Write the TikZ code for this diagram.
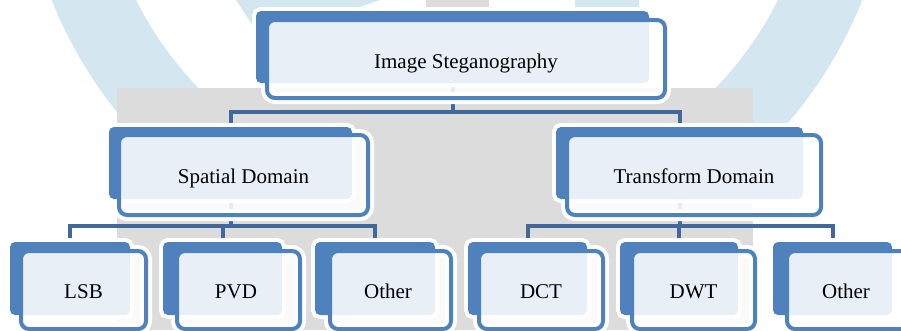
\documentclass[tikz,border=0pt]{standalone}
\usepackage{fontspec}
\setmainfont{Liberation Serif}
\pgfdeclarelayer{backdrop}
\pgfdeclarelayer{conn}
\pgfsetlayers{backdrop,conn,main}
\definecolor{boxblue}{RGB}{79,129,189}
\definecolor{connblue}{RGB}{64,104,155}
\definecolor{ringblue}{RGB}{212,231,240}
\definecolor{greybg}{RGB}{220,220,220}
\tikzset{
  backbox/.style={fill=boxblue, rounded corners=5pt, inner sep=0pt, outer sep=0pt},
  frontbox/.style={draw=boxblue, line width=4pt, fill=white, fill opacity=0.88, rounded corners=8pt, inner sep=0pt, outer sep=0pt},
  glowb/.style={draw=white, line width=8pt, rounded corners=5pt, inner sep=0pt, outer sep=0pt},
  glowf/.style={draw=white, line width=12pt, rounded corners=8pt, inner sep=0pt, outer sep=0pt},
  conn/.style={draw=connblue, line width=4pt},
  lbl/.style={anchor=base, inner sep=0pt, font=\fontsize{21}{25}\selectfont, text=black}
}
\newcommand\tbox[9]{%
  \node[glowb, minimum width={#4-#2}, minimum height={#5-#3}] (#1g) at ({(#2+#4)/2},{(#3+#5)/2}) {};
  \node[glowf, minimum width={#8-#6-4}, minimum height={#9-#7-4}] (#1h) at ({(#6+#8)/2},{(#7+#9)/2}) {};
  \node[backbox, minimum width={#4-#2}, minimum height={#5-#3}] (#1) at ({(#2+#4)/2},{(#3+#5)/2}) {};
  \node[frontbox, minimum width={#8-#6-4}, minimum height={#9-#7-4}] (#1f) at ({(#6+#8)/2},{(#7+#9)/2}) {};
}
\begin{document}
\begin{tikzpicture}[x=1pt,y=-1pt]
\useasboundingbox (0,0) rectangle (901,330);
\clip (0,0) rectangle (901,330);
% watermark background
\begin{pgfonlayer}{backdrop}
  \fill[white] (0,0) rectangle (901,330);
  \fill[ringblue, even odd rule] (457,-161) circle[radius=436pt] (457,-161) circle[radius=359pt];
  \fill[ringblue] (236,0) -- (380,0) -- (262,40) -- cycle;
  \fill[ringblue] (575,0) rectangle (639,12);
  \fill[greybg] (426,0) rectangle (489,12);
  \fill[greybg] (117,88) rectangle (753,330);
\end{pgfonlayer}
% boxes
\tbox{top}{256}{11}{649}{83}{265}{18}{667}{100}
\tbox{spat}{109}{127}{352}{199}{117}{133}{370}{217}
\tbox{trans}{556}{127}{803}{199}{565}{133}{823}{217}
\tbox{lsb}{10}{242}{130}{315}{19}{249}{148}{331}
\tbox{pvd}{163}{242}{282}{315}{175}{249}{302}{331}
\tbox{othA}{315}{242}{435}{315}{328}{249}{453}{331}
\tbox{dct}{468}{242}{587}{315}{477}{249}{605}{331}
\tbox{dwt}{620}{242}{738}{315}{630}{249}{757}{331}
\tbox{othB}{773}{242}{892}{315}{785}{249}{910}{331}
% connectors
\begin{pgfonlayer}{conn}
  \draw[conn] (top.south) -- ++(0,29) coordinate (j1);
  \draw[conn] (spat.north) |- (j1) -| (trans.north);
  \draw[conn] (spat.south) -- ++(0,27) coordinate (j2);
  \draw[conn] (lsb.north) |- (j2) -| (othA.north);
  \draw[conn] (pvd.north) -- (pvd.north |- j2);
  \draw[conn] (trans.south) -- ++(0,27) coordinate (j3);
  \draw[conn] (dct.north) |- (j3) -| (othB.north);
  \draw[conn] (dwt.north) -- (dwt.north |- j3);
\end{pgfonlayer}
% labels
\node[lbl] (topt) at (466,68) {Image Steganography};
\node[lbl] (spatt) at (243.5,183) {Spatial Domain};
\node[lbl] (transt) at (694,183) {Transform Domain};
\node[lbl] (lsbt) at (83.5,298) {LSB};
\node[lbl] (pvdt) at (236,298) {PVD};
\node[lbl] (othAt) at (388,298) {Other};
\node[lbl] (dctt) at (541,298) {DCT};
\node[lbl] (dwtt) at (693.5,298) {DWT};
\node[lbl] (othBt) at (846,298) {Other};
\end{tikzpicture}
\end{document}
